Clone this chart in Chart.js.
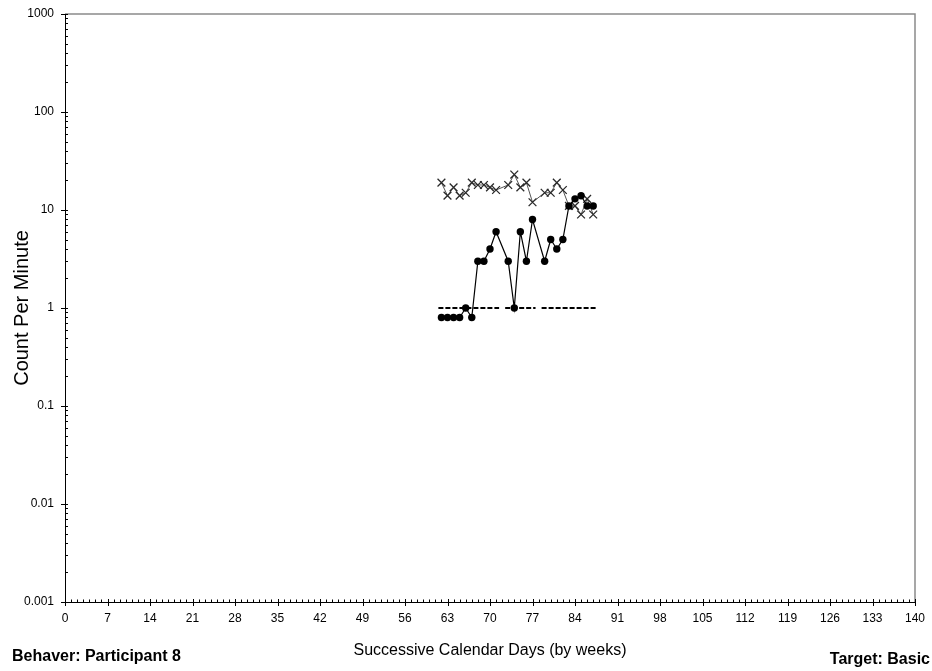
<!DOCTYPE html>
<html>
<head>
<meta charset="utf-8">
<script src="https://cdn.jsdelivr.net/npm/chart.js@4.4.1/dist/chart.umd.min.js"></script>
<style>
  html, body { margin: 0; padding: 0; background: #fff; }
  #chartBox { width: 932px; height: 671px; }
</style>
</head>
<body>
<div id="chartBox"><canvas id="celeration" width="932" height="671"></canvas></div>
<script>
// calendar days with a recorded timing
let days = [62, 63, 64, 65, 66, 67, 68, 69, 70, 71, 73, 74, 75, 76, 77, 79, 80, 81, 82, 83, 84, 85, 86, 87]
// counts per minute, corrects (dots) and errors (x)
let corrects = [0.8, 0.8, 0.8, 0.8, 1, 0.8, 3, 3, 4, 6, 3, 1, 6, 3, 8, 3, 5, 4, 5, 11, 13, 14, 11, 11]
let errors = [19, 14, 17, 14, 15, 19, 18, 18, 17, 16, 18, 23, 17, 19, 12, 15, 15, 19, 16, 11, 11, 9, 13, 9]

// aim line for each phase
let aimStart = [61.5, 72.5, 78.5]
let aimEnd = [71.5, 77.5, 87.5]
let aimLevel = 1

let weekTicks = [0, 7, 14, 21, 28, 35, 42, 49, 56, 63, 70, 77, 84, 91, 98, 105, 112, 119, 126, 133, 140]
let decadeTicks = [0.001, 0.01, 0.1, 1, 10, 100, 1000]
let decadeLabels = ['0.001', '0.01', '0.1', '1', '10', '100', '1000']

let behaverText = 'Behaver: Participant 8'
let targetText = 'Target: Basic'

let fontFamily = '"Liberation Sans", Arial, sans-serif'

let points = function(vals) {
  return days.map((d, i) => ({ x: d, y: vals[i] }))
}

let aimSets = aimStart.map((s, i) => ({
  label: 'aim' + i,
  data: [{ x: s, y: aimLevel }, { x: aimEnd[i], y: aimLevel }],
  borderColor: '#000',
  borderWidth: 2,
  borderDash: [5, 2],
  pointRadius: 0,
  order: 3
}))

// tick marks, frame and corner captions
const chartDecor = {
  id: 'chartDecor',
  afterDraw(chart) {
    const { ctx, chartArea: a, scales: { x, y } } = chart
    ctx.save()
    ctx.strokeStyle = '#8a8a8a'
    ctx.lineWidth = 1.5
    ctx.beginPath()
    ctx.moveTo(a.left, a.top)
    ctx.lineTo(a.right, a.top)
    ctx.lineTo(a.right, a.bottom)
    ctx.stroke()

    ctx.strokeStyle = '#000'
    ctx.lineWidth = 1
    ctx.beginPath()
    for (let d = 0; d <= 140; d++) {
      let px = Math.round(x.getPixelForValue(d)) + 0.5
      if (d % 7 == 0) {
        ctx.moveTo(px, a.bottom - 3)
        ctx.lineTo(px, a.bottom + 4)
      } else {
        ctx.moveTo(px, a.bottom - 2.5)
        ctx.lineTo(px, a.bottom)
      }
    }
    for (let e = -3; e <= 3; e++) {
      for (let m = 1; m < 10; m++) {
        if (e == 3 && m > 1) break
        let py = Math.round(y.getPixelForValue(m * Math.pow(10, e))) + 0.5
        if (m == 1) {
          ctx.moveTo(a.left - 4, py)
          ctx.lineTo(a.left + 3, py)
        } else {
          ctx.moveTo(a.left, py)
          ctx.lineTo(a.left + 3, py)
        }
      }
    }
    ctx.stroke()

    ctx.fillStyle = '#000'
    ctx.font = 'bold 16px ' + fontFamily
    ctx.textBaseline = 'middle'
    ctx.textAlign = 'left'
    ctx.fillText(behaverText, 12, 657)
    ctx.textAlign = 'right'
    ctx.fillText(targetText, 930, 660)
    ctx.restore()
  }
}

let celChart = new Chart(document.getElementById('celeration'), {
  type: 'line',
  data: {
    datasets: [{
      label: 'Corrects',
      data: points(corrects),
      borderColor: '#000',
      backgroundColor: '#000',
      borderWidth: 1.2,
      pointStyle: 'circle',
      pointRadius: 3.7,
      pointBorderWidth: 0,
      order: 1
    }, {
      label: 'Errors',
      data: points(errors),
      borderColor: '#555',
      backgroundColor: '#333',
      borderWidth: 1,
      pointStyle: 'crossRot',
      pointRadius: 5.5,
      pointBorderColor: '#2a2a2a',
      pointBorderWidth: 1.3,
      order: 2
    }].concat(aimSets)
  },
  options: {
    responsive: false,
    animation: false,
    layout: { padding: { top: 14, right: 17, left: 0, bottom: 0 } },
    plugins: {
      legend: { display: false },
      tooltip: { enabled: false }
    },
    scales: {
      x: {
        type: 'linear',
        min: 0,
        max: 140,
        afterBuildTicks: scale => { scale.ticks = weekTicks.map(v => ({ value: v })) },
        afterFit: scale => {
          scale.height = 69
          scale.paddingLeft = 0
          scale.paddingRight = 0
        },
        grid: { display: false, drawTicks: false },
        border: { display: true, color: '#000', width: 1 },
        ticks: { autoSkip: false, maxRotation: 0, padding: 9, color: '#000', font: { family: fontFamily, size: 12 } },
        title: {
          display: true,
          text: 'Successive Calendar Days (by weeks)',
          color: '#000',
          font: { family: fontFamily, size: 16 },
          padding: { top: 0, bottom: 11 }
        }
      },
      y: {
        type: 'logarithmic',
        min: 0.001,
        max: 1000,
        afterBuildTicks: scale => { scale.ticks = decadeTicks.map(v => ({ value: v })) },
        afterFit: scale => {
          scale.width = 65
          scale.paddingTop = 0
          scale.paddingBottom = 0
        },
        grid: { display: false, drawTicks: false },
        border: { display: true, color: '#000', width: 1 },
        ticks: {
          autoSkip: false,
          padding: 11,
          color: '#000',
          font: { family: fontFamily, size: 12 },
          callback: (v, i) => decadeLabels[i]
        },
        title: {
          display: true,
          text: 'Count Per Minute',
          color: '#000',
          font: { family: fontFamily, size: 20 },
          padding: { top: 10, bottom: 0 }
        }
      }
    }
  },
  plugins: [chartDecor]
})
</script>
</body>
</html>
